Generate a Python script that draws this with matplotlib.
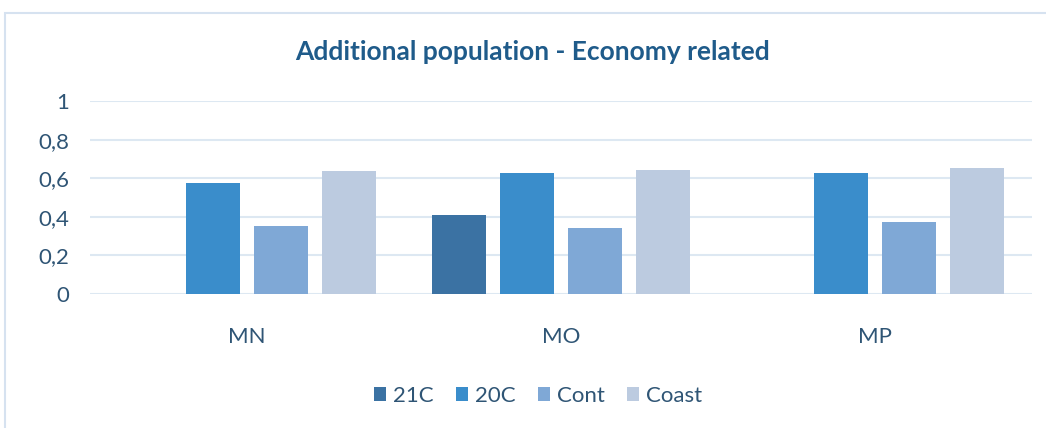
import numpy as np
import matplotlib.pyplot as plt
from matplotlib.patches import Rectangle

# data
categories = ['MN', 'MO', 'MP']
series = ['21C', '20C', 'Cont', 'Coast']
v_21c = [0, 0.41, 0]
v_20c = [0.575, 0.625, 0.625]
v_cont = [0.35, 0.34, 0.375]
v_coast = [0.635, 0.645, 0.655]
y_ticks = [0, 0.2, 0.4, 0.6, 0.8, 1]
y_labels = ['0', '0,2', '0,4', '0,6', '0,8', '1']

colors = ['#3b72a3', '#3a8dcb', '#7fa8d6', '#bccbe0']
text_col = '#2f5575'

plt.rcParams['font.family'] = ['Lato', 'DejaVu Sans']

fig = plt.figure(figsize=(10.46, 4.28), dpi=100)
fig.patches.append(Rectangle((5 / 1046, -0.1), 1.2, 1 - 13 / 428 + 0.1,
                             transform=fig.transFigure, fill=False,
                             edgecolor='#d6e2f0', linewidth=1.5))

ax = fig.add_axes([90 / 1046, 1 - 294 / 428, 942 / 1046, 193 / 428])

x = np.arange(len(categories))
step = 0.2166
width = 0.175
all_vals = [v_21c, v_20c, v_cont, v_coast]
for i, (name, vals) in enumerate(zip(series, all_vals)):
    ax.bar(x + (i - 1.5) * step, vals, width=width, color=colors[i], label=name, zorder=3)

ax.set_xlim(-0.5, 2.5)
ax.set_ylim(0, 1)
ax.set_yticks(y_ticks)
ax.set_yticklabels(y_labels)
ax.set_xticks(x)
ax.set_xticklabels(categories)
ax.grid(axis='y', color='#dde8f2', linewidth=1.5, zorder=0)
for s in ax.spines.values():
    s.set_visible(False)
ax.tick_params(axis='both', length=0, labelsize=16, labelcolor=text_col)
ax.tick_params(axis='y', pad=15)
ax.tick_params(axis='x', pad=24)

fig.text(533 / 1046, 1 - 52 / 428, 'Additional population - Economy related',
         ha='center', va='center', fontsize=19, fontweight='bold', color='#1f5b8a')

fig.legend(loc='center', bbox_to_anchor=(538 / 1046, 1 - 396 / 428), ncol=4,
           frameon=False, fontsize=16, handlelength=0.55, handleheight=0.55,
           handletextpad=0.3, columnspacing=1.0, labelcolor=text_col)

fig.savefig('out.png', dpi=100)
